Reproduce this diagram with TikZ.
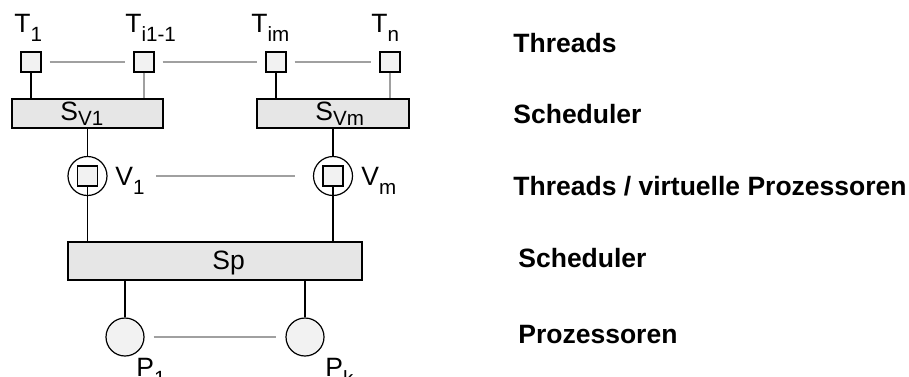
\documentclass[tikz,border=0pt]{standalone}
\usepackage{fontspec}
\setmainfont{Liberation Sans}
\definecolor{boxgray}{HTML}{E6E6E6}
\definecolor{sqgray}{HTML}{F2F2F2}
\definecolor{linkgray}{HTML}{A0A0A0}
\newcommand{\lowsub}[2]{\raisebox{-#1}{\fontsize{10.3}{12}\selectfont #2}}
\tikzset{
  thr/.style={draw, fill=sqgray, minimum size=10pt, inner sep=0pt, line width=0.6pt},
  sched/.style={draw, fill=boxgray, inner sep=0pt, line width=0.65pt},
  vproc/.style={draw, circle, minimum size=19.5pt, inner sep=0pt, line width=0.6pt},
  proc/.style={draw, circle, fill=sqgray, minimum size=19pt, inner sep=0pt, line width=0.6pt},
  link/.style={draw=linkgray, line width=0.6pt, shorten <=4pt, shorten >=4pt},
  conn/.style={draw, line width=0.6pt},
  lbl/.style={anchor=base west, inner sep=0pt},
  layer/.style={anchor=base west, inner sep=0pt, font=\bfseries}
}
\begin{document}
\begin{tikzpicture}[x=0.5pt, y=-0.5pt]
  \fontsize{13.25}{15}\selectfont
  \useasboundingbox (0,0) rectangle (909,376);

  % threads
  \node[thr] (t1) at (31,62) {};
  \node[thr] (ti) at (144,62) {};
  \node[thr] (tim) at (276,62) {};
  \node[thr] (tn) at (390,62) {};
  \node[lbl] (t1lab) at (14,32) {T\lowsub{4.5pt}{1}};
  \node[lbl] (tilab) at (125,32) {T\lowsub{4.5pt}{i1-1}};
  \node[lbl] (timlab) at (251,32) {T\lowsub{4.5pt}{im}};
  \node[lbl] (tnlab) at (371,32) {T\lowsub{4.5pt}{n}};
  \draw[link] (t1.east) -- (ti.west);
  \draw[link] (ti.east) -- (tim.west);
  \draw[link] (tim.east) -- (tn.west);

  % thread schedulers
  \node[sched, minimum width=75.5pt, minimum height=14.5pt] (sv1) at (87.5,113.5) {};
  \node[sched, minimum width=76pt, minimum height=14.5pt] (svm) at (333,113.5) {};
  \node[lbl] (sv1lab) at (60,120) {S\lowsub{2.5pt}{V1}};
  \node[lbl] (svmlab) at (315,120) {S\lowsub{2.5pt}{Vm}};
  \draw[conn] (t1.south) -- (t1.south |- sv1.north);
  \draw[conn, draw=linkgray] (ti.south) -- (ti.south |- sv1.north);
  \draw[conn] (tim.south) -- (tim.south |- svm.north);
  \draw[conn, draw=linkgray] (tn.south) -- (tn.south |- svm.north);

  % virtual processors
  \node[vproc] (v1) at (87.5,176) {};
  \node[thr] (v1in) at (87.5,176) {};
  \node[vproc] (vm) at (333,176) {};
  \node[thr] (vmin) at (333,176) {};
  \node[lbl] (v1lab) at (115,185) {V\lowsub{4.5pt}{1}};
  \node[lbl] (vmlab) at (361,185) {V\lowsub{4.5pt}{m}};
  \draw[conn] (sv1.south) -- (v1.north);
  \draw[conn] (svm.south) -- (vm.north);
  \draw[link, shorten <=5.5pt, shorten >=9pt] (v1lab.east |- v1.east) -- (vm.west);

  % processor scheduler
  \node[sched, minimum width=147pt, minimum height=19pt] (sp) at (215,261) {};
  \node[lbl] (splab) at (212,269) {Sp};
  \draw[conn] (v1in.south) -- (v1in.south |- sp.north);
  \draw[conn] (vmin.south) -- (vmin.south |- sp.north);

  % processors
  \node[proc] (p1) at (125,337) {};
  \node[proc] (pk) at (305,337) {};
  \node[lbl] (p1lab) at (136,376) {P\lowsub{4.5pt}{1}};
  \node[lbl] (pklab) at (325,376) {P\lowsub{4.5pt}{k}};
  \draw[conn] (p1.north |- sp.south) -- (p1.north);
  \draw[conn] (pk.north |- sp.south) -- (pk.north);
  \draw[link, shorten <=4.5pt, shorten >=4.5pt] (p1.east) -- (pk.west);

  % layer names
  \node[layer] (lthr) at (513,52) {Threads};
  \node[layer] (lsch) at (513,123) {Scheduler};
  \node[layer] (lvp) at (513,195) {Threads / virtuelle Prozessoren};
  \node[layer] (lsp) at (518,267) {Scheduler};
  \node[layer] (lpr) at (518,343) {Prozessoren};
\end{tikzpicture}
\end{document}
